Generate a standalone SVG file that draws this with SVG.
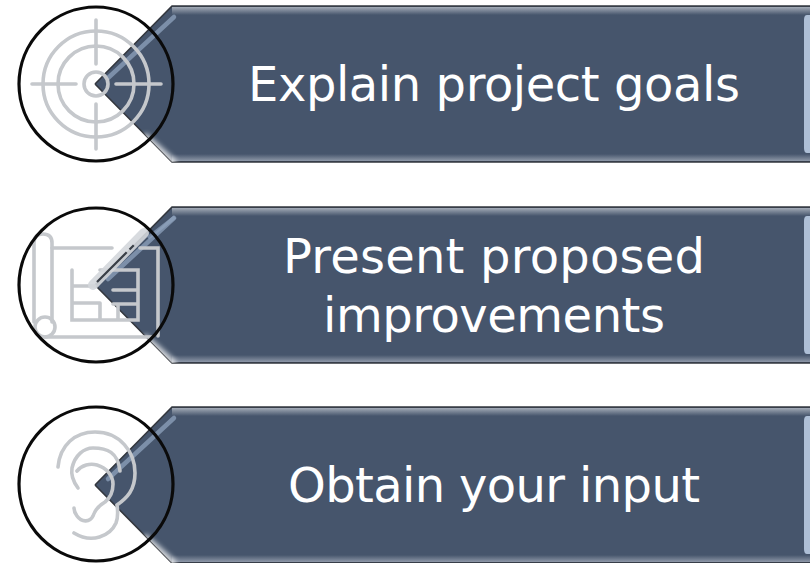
<svg xmlns="http://www.w3.org/2000/svg" width="810" height="563" viewBox="0 0 810 563">
<defs>
<linearGradient id="top" x1="0" y1="0" x2="0" y2="1"><stop offset="0" stop-color="#a3abb7"/><stop offset="1" stop-color="#46556c"/></linearGradient>
<linearGradient id="bot" x1="0" y1="0" x2="0" y2="1"><stop offset="0" stop-color="#46556c"/><stop offset="1" stop-color="#8e98a8"/></linearGradient>
<filter id="b" x="-20%" y="-20%" width="140%" height="140%"><feGaussianBlur stdDeviation="0.6"/></filter>
<filter id="b2" x="-50%" y="-50%" width="200%" height="200%"><feGaussianBlur stdDeviation="2.5"/></filter>
<clipPath id="rc"><path d="M0 0 77 -78H716V78H77Z"/></clipPath>
<g id="ribbon">
<path d="M0 0 77 -78H716V78H77Z" fill="#46556c"/>
<rect x="77" y="-77" width="639" height="8" fill="url(#top)"/>
<rect x="77" y="70" width="639" height="7" fill="url(#bot)"/>
<path d="M0 0 77 -78H716M716 78H77L0 0" fill="none" stroke="#33373e" stroke-width="1.6"/>
<path d="M48 52 79 80" stroke="#fff" stroke-width="9" opacity=".75" fill="none" filter="url(#b2)" clip-path="url(#rc)"/>
<path d="M13 -6 79 -67" stroke="#8fa3bd" stroke-width="4.5" stroke-linecap="round" opacity=".75" fill="none"/>
<path d="M712 -69Q709 -69 709 -64V64Q709 69 712 69H716V-69Z" fill="#aebfd6"/>
</g>
</defs>
<style>
.ic{fill:none;stroke:#c5c8cc;stroke-width:3.6;stroke-linecap:round;filter:url(#b)}
.rim{fill:none;stroke:#0a0a0a;stroke-width:3.2}
.lb{font-family:"DejaVu Sans",sans-serif;font-size:48px;fill:#fff;text-anchor:middle}
</style>
<g id="node-goals">
<use href="#ribbon" x="95" y="84"/>
<g class="ic">
<circle cx="96" cy="84" r="12"/><circle cx="96" cy="84" r="38"/><circle cx="96" cy="84" r="53"/>
<path d="M96 20V64M96 104V149M32 84H76M116 84H161"/>
</g>
<circle class="rim" cx="96" cy="84" r="77"/>
<text class="lb" x="494" y="101" textLength="492">Explain project goals</text>
</g>
<g id="node-improvements">
<use href="#ribbon" x="95" y="285"/>
<g class="ic">
<path d="M34 322V243Q34 234 43 234Q52 234 52 243V322"/>
<circle cx="45" cy="327" r="10"/>
<path d="M52 248H112M140 248H158V336M45 337H152"/>
<path d="M72 270V320H138V270H100M72 286H95M72 303H100M113 290H138M113 304H138M100 303V320M118 304V320"/>
</g>
<path d="M93 285 144 233" fill="none" stroke="#d4d7db" stroke-width="10" stroke-linecap="round" opacity=".9"/>
<path d="M97 282 145 234" fill="none" stroke="#3a3f47" stroke-width="2.2" stroke-dasharray="42 4 6"/>
<path d="M148 238 175 217" fill="none" stroke="#8fa3bd" stroke-width="4" opacity=".7"/>
<circle class="rim" cx="96" cy="285" r="77"/>
<text class="lb" x="494" y="273" textLength="422">Present proposed</text>
<text class="lb" x="494" y="332" textLength="342">improvements</text>
</g>
<g id="node-input">
<use href="#ribbon" x="95" y="485"/>
<g class="ic">
<path d="M58 467C60 445 75 432 95 432C120 432 135 452 135 473C135 490 127 498 117 505C118 512 118 518 116 523C110 536 92 544 74 533"/>
<path d="M78 488C72 480 71 474 72 468C75 455 84 448 93 448C107 448 118 452 120 471"/>
<path d="M77 471C82 465 90 463 97 465C107 468 113 476 113 484C113 492 110 498 105 502C98 506 95 510 93 516C90 522 82 523 77 516C74 512 74 510 74 508"/>
</g>
<circle class="rim" cx="96" cy="484" r="77"/>
<text class="lb" x="494" y="502" textLength="412">Obtain your input</text>
</g>
</svg>
